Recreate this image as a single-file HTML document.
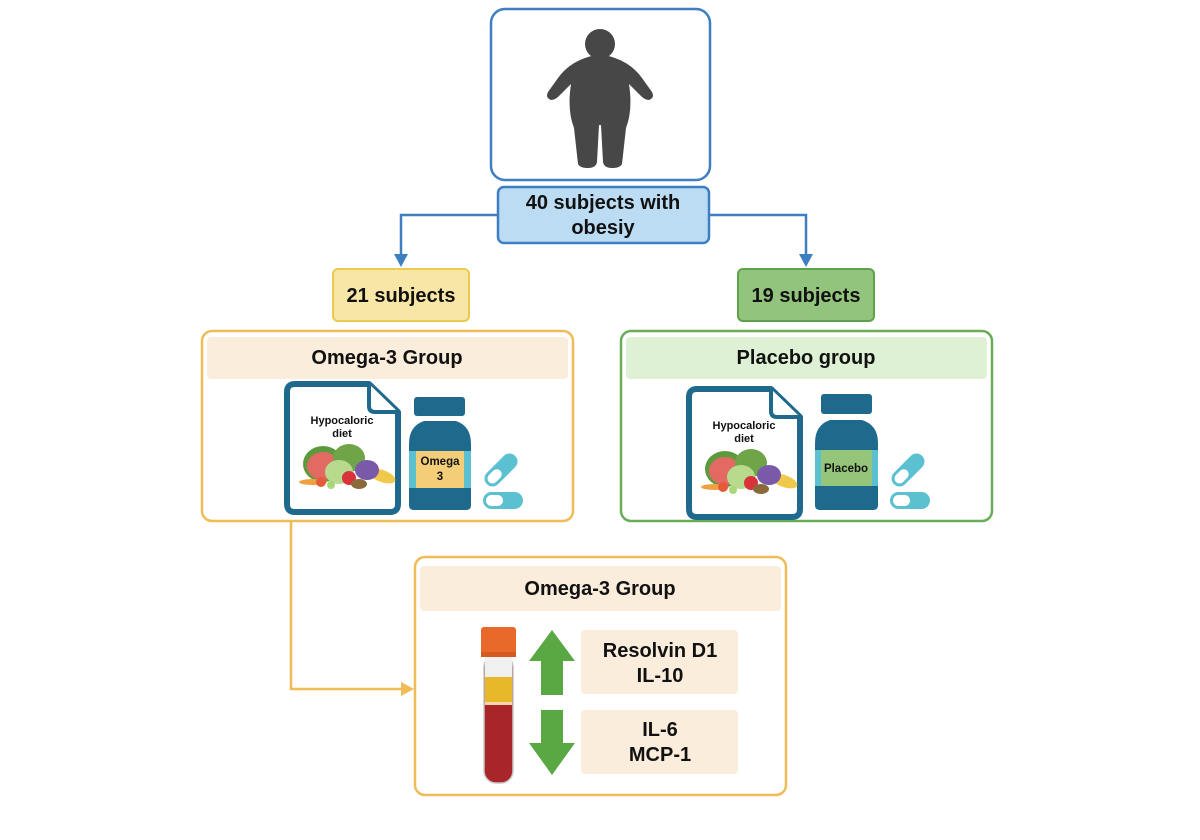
<!DOCTYPE html>
<html><head><meta charset="utf-8"><style>
html,body{margin:0;padding:0;background:#fff;width:1200px;height:840px;overflow:hidden}
svg{display:block}
text{font-family:"Liberation Sans",sans-serif;font-weight:bold;fill:#111}
</style></head><body>
<svg width="1200" height="840" viewBox="0 0 1200 840" xmlns="http://www.w3.org/2000/svg">
<defs>
<g id="diet">
  <path d="M8,0 H82 L111,28 V120 Q111,128 103,128 H8 Q0,128 0,120 V8 Q0,0 8,0 Z" fill="#fff" stroke="#1f6a8c" stroke-width="6" stroke-linejoin="round"/>
  <path d="M82,0 V22 Q82,28 88,28 H111" fill="#fff" stroke="#1f6a8c" stroke-width="4"/>
  <text x="55" y="40" font-size="11" text-anchor="middle">Hypocaloric</text>
  <text x="55" y="53" font-size="11" text-anchor="middle">diet</text>
  <ellipse cx="95" cy="92" rx="14" ry="6" fill="#f0c94a" transform="rotate(20 95 92)"/>
  <ellipse cx="36" cy="80" rx="20" ry="18" fill="#5d9a3e"/>
  <ellipse cx="36" cy="82" rx="16" ry="14" fill="#e36a63"/>
  <ellipse cx="62" cy="74" rx="16" ry="14" fill="#6fa548"/>
  <ellipse cx="52" cy="88" rx="14" ry="12" fill="#b8da8c"/>
  <ellipse cx="80" cy="86" rx="12" ry="10" fill="#7a5aa8"/>
  <circle cx="62" cy="94" r="7" fill="#d8323a"/>
  <ellipse cx="72" cy="100" rx="8" ry="5" fill="#8a6a3a"/>
  <ellipse cx="26" cy="98" rx="14" ry="3" fill="#f0a040"/>
  <circle cx="34" cy="98" r="5" fill="#e55a3a"/>
  <circle cx="44" cy="101" r="4" fill="#a8d878"/>
</g>
<g id="pills">
  <g transform="rotate(-45 20 18)"><rect x="0" y="10" width="40" height="16" rx="8" fill="#5bc0cf"/><rect x="3" y="13" width="16" height="10" rx="5" fill="#fff"/></g>
  <rect x="2" y="40" width="40" height="17" rx="8.5" fill="#5bc0cf"/><rect x="5" y="43" width="17" height="11" rx="5.5" fill="#fff"/>
</g>
</defs>

<!-- top box -->
<rect x="491" y="9" width="219" height="171" rx="14" fill="#fff" stroke="#3d7fc0" stroke-width="2.5"/>
<g fill="#474747">
  <circle cx="600" cy="44" r="15"/>
  <path d="M585,58 Q600,52 615,58 Q632,64 642,78 L652,92 Q655,98 649,100 Q645,100 641,96 L629,84 Q633,110 626,128 L622,164 Q620,168 612,168 Q604,168 603,162 L601,125 L599,125 L597,162 Q596,168 588,168 Q580,168 578,164 L574,128 Q567,110 571,84 L559,96 Q555,100 551,100 Q545,98 548,92 L558,78 Q568,64 585,58 Z"/>
</g>
<rect x="498" y="187" width="211" height="56" rx="6" fill="#bcdcf3" stroke="#3d7fc0" stroke-width="2.5"/>
<text x="603" y="209" font-size="20" text-anchor="middle">40 subjects with</text>
<text x="603" y="234" font-size="20" text-anchor="middle">obesiy</text>

<!-- blue connectors -->
<g stroke="#3d7fc0" stroke-width="2.5" fill="none">
  <path d="M497,215 H401 V256"/>
  <path d="M710,215 H806 V256"/>
</g>
<path d="M394,254 L408,254 L401,267 Z" fill="#3d7fc0"/>
<path d="M799,254 L813,254 L806,267 Z" fill="#3d7fc0"/>

<!-- subjects boxes -->
<rect x="333" y="269" width="136" height="52" rx="5" fill="#f7e6a6" stroke="#ebca4f" stroke-width="2"/>
<text x="401" y="302" font-size="20" text-anchor="middle">21 subjects</text>
<rect x="738" y="269" width="136" height="52" rx="5" fill="#93c47d" stroke="#5da24b" stroke-width="2"/>
<text x="806" y="302" font-size="20" text-anchor="middle">19 subjects</text>

<!-- omega group -->
<rect x="202" y="331" width="371" height="190" rx="10" fill="#fff" stroke="#f0bc58" stroke-width="2.5"/>
<rect x="207" y="337" width="361" height="42" rx="4" fill="#fbeddb"/>
<text x="387" y="364" font-size="20" text-anchor="middle">Omega-3 Group</text>
<use href="#diet" x="287" y="384"/>
<g>
  <rect x="414" y="397" width="51" height="19" rx="3" fill="#1f6a8c"/>
  <path d="M424,421 H456 Q471,426 471,444 V505 Q471,510 466,510 H414 Q409,510 409,505 V444 Q409,426 424,421 Z" fill="#1f6a8c"/>
  <rect x="409" y="451" width="62" height="37" fill="#5bc0cf"/>
  <rect x="416" y="451" width="48" height="37" fill="#f3cd78"/>
  <text x="440" y="465" font-size="11.5" text-anchor="middle">Omega</text>
  <text x="440" y="480" font-size="11.5" text-anchor="middle">3</text>
</g>
<use href="#pills" x="481" y="452"/>

<!-- placebo group -->
<rect x="621" y="331" width="371" height="190" rx="10" fill="#fff" stroke="#6aad58" stroke-width="2.5"/>
<rect x="626" y="337" width="361" height="42" rx="4" fill="#dff1d5"/>
<text x="806" y="364" font-size="20" text-anchor="middle">Placebo group</text>
<use href="#diet" x="689" y="389"/>
<g>
  <rect x="821" y="394" width="51" height="20" rx="3" fill="#1f6a8c"/>
  <path d="M830,420 H862 Q878,425 878,443 V505 Q878,510 873,510 H820 Q815,510 815,505 V443 Q815,425 830,420 Z" fill="#1f6a8c"/>
  <rect x="815" y="450" width="63" height="36" fill="#5bc0cf"/>
  <rect x="821" y="450" width="51" height="36" fill="#95c57b"/>
  <text x="846" y="472" font-size="11.5" text-anchor="middle">Placebo</text>
</g>
<use href="#pills" x="888" y="452"/>

<!-- orange connector -->
<path d="M291,521 V689 H404" stroke="#f0bc58" stroke-width="2.5" fill="none"/>
<path d="M401,682 L414,689 L401,696 Z" fill="#f0bc58"/>

<!-- bottom box -->
<rect x="415" y="557" width="371" height="238" rx="10" fill="#fff" stroke="#f0bc58" stroke-width="2.5"/>
<rect x="420" y="566" width="361" height="45" rx="4" fill="#fbeddb"/>
<text x="600" y="595" font-size="20" text-anchor="middle">Omega-3 Group</text>
<!-- tube -->
<rect x="484" y="655" width="29" height="128" rx="12" fill="#a8262a" stroke="#c9c9c9" stroke-width="1.5"/>
<rect x="485" y="655" width="27" height="30" fill="#f0f0f0"/>
<rect x="485" y="677" width="27" height="27" fill="#e7b82a"/>
<rect x="485" y="702" width="27" height="3" fill="#f6d8a8"/>
<rect x="481" y="627" width="35" height="28" rx="3" fill="#e8692a"/>
<rect x="481" y="652" width="35" height="5" fill="#d35a20"/>
<!-- arrows -->
<path d="M541,695 V661 H529 L552,630 L575,661 H563 V695 Z" fill="#5aa844"/>
<path d="M541,710 H563 V743 H575 L552,775 L529,743 H541 Z" fill="#5aa844"/>
<rect x="581" y="630" width="157" height="64" rx="4" fill="#fbeddb"/>
<text x="660" y="657" font-size="20" text-anchor="middle">Resolvin D1</text>
<text x="660" y="682" font-size="20" text-anchor="middle">IL-10</text>
<rect x="581" y="710" width="157" height="64" rx="4" fill="#fbeddb"/>
<text x="660" y="736" font-size="20" text-anchor="middle">IL-6</text>
<text x="660" y="761" font-size="20" text-anchor="middle">MCP-1</text>
</svg>
</body></html>
